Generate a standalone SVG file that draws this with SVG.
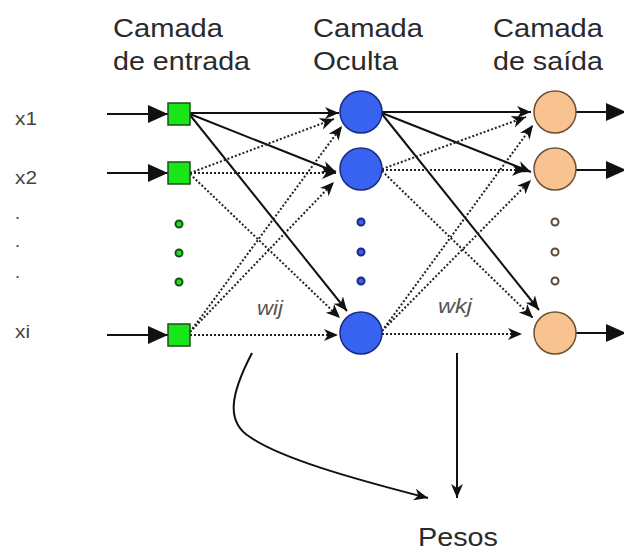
<svg xmlns="http://www.w3.org/2000/svg" width="624" height="552" viewBox="0 0 624 552">
  <style>
    .hdr { font-family: "Liberation Sans", Arial, sans-serif; font-size: 26px; fill: #2a2a2a; }
    .lbl { font-family: "Liberation Sans", Arial, sans-serif; font-size: 18px; fill: #444; }
    .wt { font-family: "Liberation Sans", Arial, sans-serif; font-size: 20px; font-style: italic; fill: #555; }
    .solid { stroke: #111; stroke-width: 2; fill: none; marker-end: url(#ah); }
    .dot { stroke: #222; stroke-width: 2; stroke-dasharray: 2 2; fill: none; marker-end: url(#ah); }
    .io { stroke: #111; stroke-width: 2; fill: none; marker-end: url(#big); }
    .inp { fill: #19e619; stroke: #1d4d1d; stroke-width: 1.5; }
    .hid { fill: #3763f0; stroke: #1a2a80; stroke-width: 1.5; }
    .out { fill: #f9c391; stroke: #6e5035; stroke-width: 1.5; }
    .sm { stroke-width: 2; }
  </style>
  <defs>
    <marker id="ah" markerUnits="userSpaceOnUse" markerWidth="16" markerHeight="14" refX="14" refY="6" orient="auto">
      <path d="M0,0 L14,6 L0,12 L4,6 z" fill="#111"/>
    </marker>
    <marker id="big" markerUnits="userSpaceOnUse" markerWidth="22" markerHeight="20" refX="20" refY="9" orient="auto">
      <path d="M0,0 L20,9 L0,18 z" fill="#111"/>
    </marker>
  </defs>
  <rect width="624" height="552" fill="#fff"/>

  <!-- layer titles -->
  <g id="title-input">
    <text class="hdr" x="113" y="37" textLength="110" lengthAdjust="spacingAndGlyphs">Camada</text>
    <text class="hdr" x="113" y="70" textLength="137" lengthAdjust="spacingAndGlyphs">de entrada</text>
  </g>
  <g id="title-hidden">
    <text class="hdr" x="313" y="37" textLength="110" lengthAdjust="spacingAndGlyphs">Camada</text>
    <text class="hdr" x="313" y="70" textLength="85" lengthAdjust="spacingAndGlyphs">Oculta</text>
  </g>
  <g id="title-output">
    <text class="hdr" x="493" y="37" textLength="110" lengthAdjust="spacingAndGlyphs">Camada</text>
    <text class="hdr" x="493" y="70" textLength="110" lengthAdjust="spacingAndGlyphs">de saída</text>
  </g>

  <!-- input labels -->
  <g id="labels">
    <text class="lbl" x="15" y="125" textLength="22" lengthAdjust="spacingAndGlyphs">x1</text>
    <text class="lbl" x="15" y="184" textLength="22" lengthAdjust="spacingAndGlyphs">x2</text>
    <text class="lbl" x="15" y="219">.</text>
    <text class="lbl" x="15" y="247">.</text>
    <text class="lbl" x="15" y="278">.</text>
    <text class="lbl" x="15" y="338" textLength="15" lengthAdjust="spacingAndGlyphs">xi</text>
  </g>

  <!-- connectors -->
  <g id="connectors">
    <!-- external inputs -->
    <line class="io" x1="107" y1="114" x2="168" y2="114"/>
    <line class="io" x1="107" y1="173" x2="168" y2="173"/>
    <line class="io" x1="107" y1="335" x2="168" y2="335"/>
    <!-- input to hidden -->
    <line class="solid" x1="190" y1="113" x2="339" y2="113"/>
    <line class="solid" x1="190" y1="114" x2="336" y2="172"/>
    <line class="solid" x1="190" y1="115" x2="347" y2="311"/>
    <line class="dot" x1="190" y1="173" x2="334" y2="119"/>
    <line class="dot" x1="190" y1="173" x2="336" y2="173"/>
    <line class="dot" x1="190" y1="174" x2="340" y2="318"/>
    <line class="dot" x1="190" y1="332" x2="342" y2="126"/>
    <line class="dot" x1="190" y1="332" x2="334" y2="182"/>
    <line class="dot" x1="190" y1="335" x2="338" y2="335"/>
    <!-- hidden to output -->
    <line class="solid" x1="382" y1="112" x2="531" y2="112"/>
    <line class="solid" x1="382" y1="113" x2="531" y2="172"/>
    <line class="solid" x1="382" y1="114" x2="539" y2="310"/>
    <line class="dot" x1="382" y1="169" x2="526" y2="117"/>
    <line class="dot" x1="382" y1="170" x2="526" y2="170"/>
    <line class="dot" x1="382" y1="171" x2="533" y2="318"/>
    <line class="dot" x1="382" y1="331" x2="533" y2="125"/>
    <line class="dot" x1="382" y1="331" x2="531" y2="180"/>
    <line class="dot" x1="382" y1="334" x2="522" y2="334"/>
    <!-- external outputs -->
    <line class="io" x1="576" y1="112" x2="626" y2="112"/>
    <line class="io" x1="576" y1="170" x2="626" y2="170"/>
    <line class="io" x1="576" y1="333" x2="626" y2="333"/>
    <!-- weights pointers -->
    <path class="solid" d="M252,353 C230,395 226,422 250,437 C280,458 350,478 428,498"/>
    <line class="solid" x1="457" y1="353" x2="457" y2="498"/>
  </g>

  <!-- input layer -->
  <g id="input-1"><rect class="inp" x="168" y="103" width="22" height="22"/></g>
  <g id="input-2"><rect class="inp" x="168" y="162" width="22" height="22"/></g>
  <g id="input-dots">
    <circle class="inp sm" cx="179" cy="224" r="3.5"/>
    <circle class="inp sm" cx="179" cy="253" r="3.5"/>
    <circle class="inp sm" cx="179" cy="282" r="3.5"/>
  </g>
  <g id="input-i"><rect class="inp" x="168" y="324" width="22" height="22"/></g>

  <!-- hidden layer -->
  <g id="hidden-1"><circle class="hid" cx="361" cy="112" r="21"/></g>
  <g id="hidden-2"><circle class="hid" cx="361" cy="169" r="21"/></g>
  <g id="hidden-dots">
    <circle class="hid sm" cx="361" cy="222" r="3.5"/>
    <circle class="hid sm" cx="361" cy="252" r="3.5"/>
    <circle class="hid sm" cx="361" cy="281" r="3.5"/>
  </g>
  <g id="hidden-j"><circle class="hid" cx="361" cy="333" r="21"/></g>

  <!-- output layer -->
  <g id="output-1"><circle class="out" cx="555" cy="112" r="21"/></g>
  <g id="output-2"><circle class="out" cx="555" cy="169" r="21"/></g>
  <g id="output-dots">
    <circle cx="555" cy="222" r="3.5" fill="#fff" stroke="#5a4a3a" stroke-width="2"/>
    <circle cx="555" cy="252" r="3.5" fill="#fff" stroke="#5a4a3a" stroke-width="2"/>
    <circle cx="555" cy="281" r="3.5" fill="#fff" stroke="#5a4a3a" stroke-width="2"/>
  </g>
  <g id="output-k"><circle class="out" cx="555" cy="333" r="21"/></g>

  <!-- weight labels -->
  <g id="weights">
    <text class="wt" x="257" y="315" textLength="26" lengthAdjust="spacingAndGlyphs">wij</text>
    <text class="wt" x="438" y="313" textLength="34" lengthAdjust="spacingAndGlyphs">wkj</text>
    <text class="hdr" x="418" y="546" font-size="25" textLength="80" lengthAdjust="spacingAndGlyphs">Pesos</text>
  </g>
</svg>
